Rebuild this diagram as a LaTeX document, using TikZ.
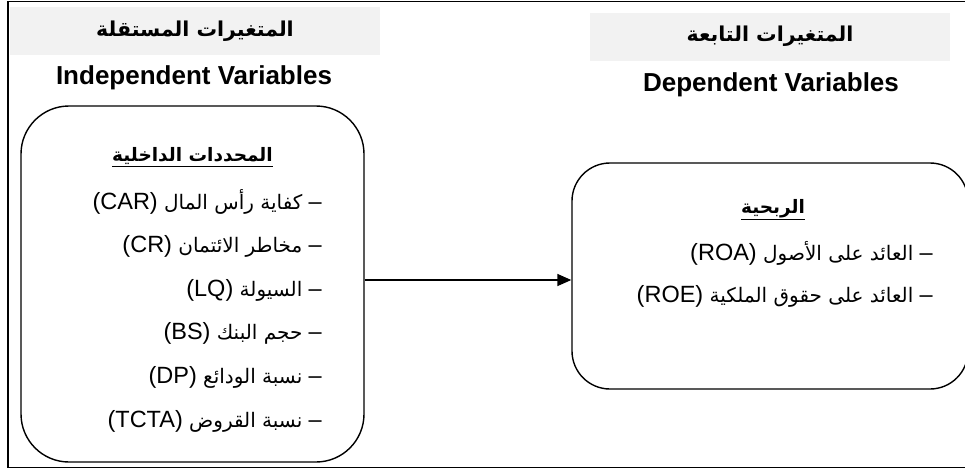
\documentclass[tikz,border=0pt]{standalone}
\usepackage{fontspec}
\setmainfont{Liberation Sans}
\newfontfamily\arabicfont[Script=Arabic]{DejaVu Sans}
\TeXXeTstate=1
\usetikzlibrary{arrows.meta,positioning}
\definecolor{headgray}{HTML}{F2F2F2}
\newcommand{\artext}[1]{{\arabicfont\beginR #1\endR}}
\newcommand{\latinpart}[1]{{\rmfamily\fontsize{23.5}{28}\selectfont #1}}
\newcommand{\varitem}[2]{{\arabicfont\beginR\latinpart{–} #1 \beginL\latinpart{(#2)}\endL\endR}}
\tikzset{
    %Define standard arrow tip
    >={Triangle[length=14pt,width=12pt]},
    %Define style for the outer frame
    frame/.style={
             draw=black, line width=1.8pt},
    %Define style for the gray headings
    headnode/.style={
             fill=headgray,
             minimum height=48pt,
             inner sep=0pt,
             font=\bfseries\fontsize{20.5}{24}\selectfont},
    titlenode/.style={
             inner sep=0pt,
             font=\bfseries\fontsize{26}{31}\selectfont},
    %Define style for rounded boxes
    varbox/.style={
             draw=black, line width=1.4pt,
             inner sep=0pt},
    subnode/.style={
             inner sep=0pt,
             font=\bfseries\fontsize{18.5}{22}\selectfont},
    itemnode/.style={
             inner sep=0pt,
             text height=16pt, text depth=6pt,
             anchor=east,
             font=\fontsize{20}{24}\selectfont},
    % Define arrow style
    varlink/.style={
            ->,
            line width=1.5pt}
}
\begin{document}
\begin{tikzpicture}[x=1pt, y=-1pt, node distance=43.6pt]
 \useasboundingbox (0,0) rectangle (965,472);
 \draw[frame] (8,1.5) rectangle (975,467.5);
 % independent side
 \node[headnode, minimum width=370pt] (indephead) at (195,31) {\artext{المتغيرات المستقلة}};
 \node[titlenode] (indeptitle) at (194,78) {Independent Variables};
 \node[varbox, minimum width=343pt, minimum height=356pt, rounded corners=48pt] (indepbox) at (192.5,284) {};
 \node[subnode] (internal) at (192.5,157) {\underline{\artext{المحددات الداخلية}}};
 \node[itemnode] (car) at (322,204) {\varitem{كفاية رأس المال}{CAR}};
 \node[itemnode, below=of car.east, anchor=east] (cr) {\varitem{مخاطر الائتمان}{CR}};
 \node[itemnode, below=of cr.east, anchor=east] (lq) {\varitem{السيولة}{LQ}};
 \node[itemnode, below=of lq.east, anchor=east] (bs) {\varitem{حجم البنك}{BS}};
 \node[itemnode, below=of bs.east, anchor=east] (dp) {\varitem{نسبة الودائع}{DP}};
 \node[itemnode, below=of dp.east, anchor=east] (tcta) {\varitem{نسبة القروض}{TCTA}};
 % dependent side
 \node[headnode, minimum width=360pt] (dephead) at (770,36.5) {\artext{المتغيرات التابعة}};
 \node[titlenode] (deptitle) at (771,85) {Dependent Variables};
 \node[varbox, minimum width=396pt, minimum height=226pt, rounded corners=38pt] (depbox) at (770,276) {};
 \node[subnode] (profit) at (773,210) {\underline{\artext{الربحية}}};
 \node[itemnode] (roa) at (933,255) {\varitem{العائد على الأصول}{ROA}};
 \node[itemnode, below=42pt of roa.east, anchor=east] (roe) {\varitem{العائد على حقوق الملكية}{ROE}};
 % link
 \coordinate (mid) at (468,280);
 \draw[varlink] (mid -| indepbox.east) -- (mid -| depbox.west);
\end{tikzpicture}
\end{document}
